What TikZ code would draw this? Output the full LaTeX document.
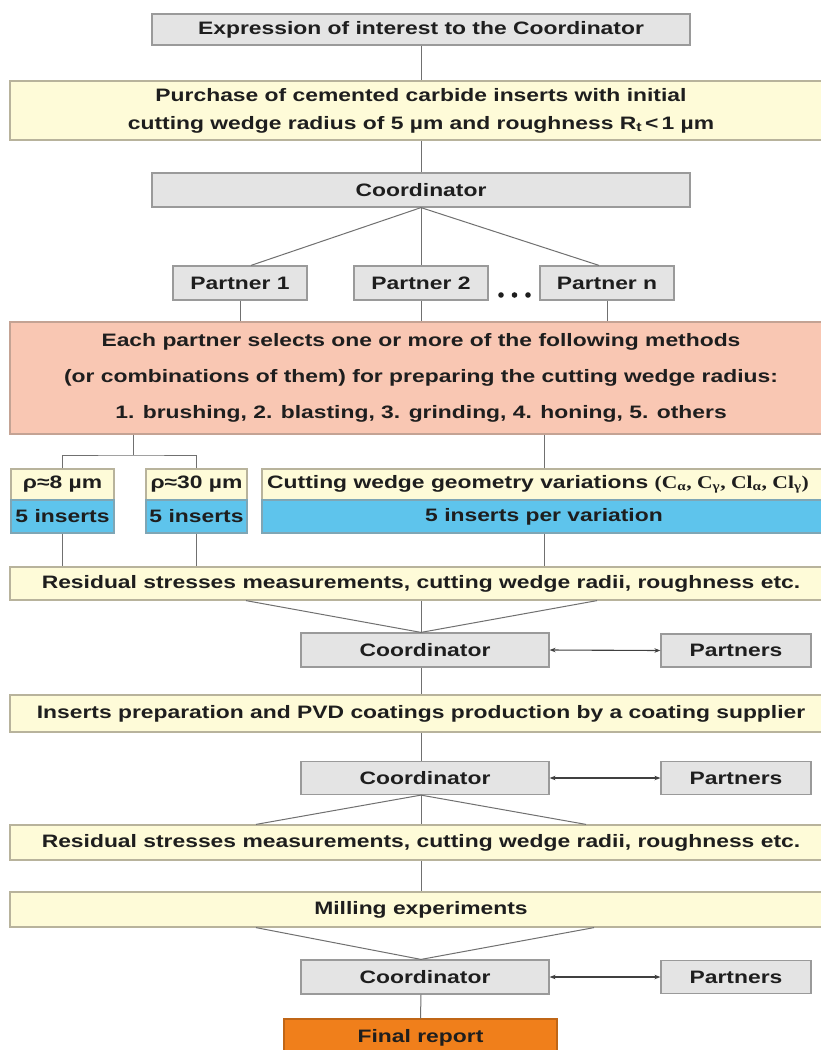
\documentclass[tikz,border=0pt]{standalone}
\usepackage{fontspec}
\newfontfamily\labfont{Liberation Sans}[FakeStretch=1.27]
\newfontfamily\serfont{Liberation Serif}[FakeStretch=1.2]
\usetikzlibrary{arrows.meta}
\definecolor{boxgray}{HTML}{E4E4E4}
\definecolor{bordergray}{HTML}{9A9A9A}
\definecolor{boxyellow}{HTML}{FEFBD8}
\definecolor{borderyellow}{HTML}{B8B39C}
\definecolor{boxpink}{HTML}{F9C7B3}
\definecolor{borderpink}{HTML}{C4A394}
\definecolor{boxblue}{HTML}{5EC4EC}
\definecolor{borderblue}{HTML}{7FA6B5}
\definecolor{boxorange}{HTML}{F07F1B}
\definecolor{linegray}{HTML}{707070}
\definecolor{txt}{HTML}{1E1E1E}
\newcommand{\lab}[1]{\labfont\bfseries\fontsize{18}{#1}\selectfont}
\tikzset{
  every node/.style={font=\lab{21}, text=txt, inner sep=0pt},
  gbox/.style={draw=bordergray, fill=boxgray, line width=1.2pt},
  ybox/.style={draw=borderyellow, fill=boxyellow, line width=1.2pt},
  pbox/.style={draw=borderpink, fill=boxpink, line width=1.2pt},
  bbox/.style={draw=borderblue, fill=boxblue, line width=1.2pt},
  obox/.style={draw=boxorange!80!black, fill=boxorange, line width=1.2pt},
  conn/.style={draw=linegray, line width=1pt},
  dbl/.style={conn, draw=txt!85, line width=1.1pt, {Stealth[length=6pt,width=4.5pt]}-{Stealth[length=6pt,width=4.5pt]}}
}
\begin{document}
\begin{tikzpicture}[x=1pt,y=-1pt]
\useasboundingbox (0,0) rectangle (821,1050);
\clip (0,0) rectangle (821,1050);
\fill[white] (0,0) rectangle (821,1050);

% nodes
\node[gbox, minimum width=538pt, minimum height=31pt] (expr) at (421,29.5) {Expression of interest to the Coordinator};
\node[ybox, minimum width=822pt, minimum height=59pt, align=center, font=\lab{28}] (purch) at (421,110.5)
  {Purchase of cemented carbide inserts with initial\\cutting wedge radius of 5 µm and roughness R\textsubscript{t}\,<\,1 µm};
\node[gbox, minimum width=538pt, minimum height=34pt] (coord1) at (421,190) {Coordinator};
\node[gbox, minimum width=134pt, minimum height=34pt] (p1) at (240,283) {Partner 1};
\node[gbox, minimum width=134pt, minimum height=34pt] (p2) at (421,283) {Partner 2};
\node[gbox, minimum width=134pt, minimum height=34pt] (pn) at (607,283) {Partner n};
\fill[txt] (501,295) circle (2.8pt) (514.5,295) circle (2.8pt) (528,295) circle (2.8pt);

\node[pbox, minimum width=822pt, minimum height=112pt, align=center, font=\lab{36}] (pink) at (421,378)
  {Each partner selects one or more of the following methods\\(or combinations of them) for preparing the cutting wedge radius:\\1. brushing, 2. blasting, 3. grinding, 4. honing, 5. others};

\node[ybox, minimum width=103pt, minimum height=31pt] (r8) at (62.5,484.5) {ρ≈8 µm};
\node[bbox, minimum width=103pt, minimum height=33pt] (r8b) at (62.5,516.5) {5 inserts};
\node[ybox, minimum width=101pt, minimum height=31pt] (r30) at (196.5,484.5) {ρ≈30 µm};
\node[bbox, minimum width=101pt, minimum height=33pt] (r30b) at (196.5,516.5) {5 inserts};
\node[ybox, minimum width=564pt, minimum height=31pt] (cw) at (544,484.5) {};
\node[anchor=west] (cwt) at (267,484.5) {Cutting wedge geometry variations {\serfont\fontsize{18}{21}\selectfont (C\textsubscript{α}, C\textsubscript{γ}, Cl\textsubscript{α}, Cl\textsubscript{γ})}};
\node[bbox, minimum width=564pt, minimum height=33pt] (cwb) at (544,516.5) {5 inserts per variation};

\node[ybox, minimum width=822pt, minimum height=33pt] (res1) at (421,583.5) {Residual stresses measurements, cutting wedge radii, roughness etc.};
\node[gbox, minimum width=248pt, minimum height=34pt] (coord2) at (425,650) {Coordinator};
\node[gbox, minimum width=150pt, minimum height=33pt] (part2) at (736,650.5) {Partners};
\node[ybox, minimum width=822pt, minimum height=37pt] (ins) at (421,713.5) {Inserts preparation and PVD coatings production by a coating supplier};
\node[gbox, minimum width=248pt, minimum height=33pt] (coord3) at (425,778) {Coordinator};
\node[gbox, minimum width=150pt, minimum height=33pt] (part3) at (736,778) {Partners};
\node[ybox, minimum width=822pt, minimum height=35pt] (res2) at (421,842.5) {Residual stresses measurements, cutting wedge radii, roughness etc.};
\node[ybox, minimum width=822pt, minimum height=35pt] (mill) at (421,909.5) {Milling experiments};
\node[gbox, minimum width=248pt, minimum height=34pt] (coord4) at (425,977) {Coordinator};
\node[gbox, minimum width=150pt, minimum height=33pt] (part4) at (736,977) {Partners};
\node[obox, minimum width=273pt, minimum height=38pt] (final) at (420.5,1038) {Final report};

% connectors
\draw[conn] (expr.south) -- (purch.north);
\draw[conn] (purch.south) -- (coord1.north);
\draw[conn] (coord1.south) -- ([xshift=11pt]p1.north);
\draw[conn] (coord1.south) -- (p2.north);
\draw[conn] (coord1.south) -- ([xshift=-8pt]pn.north);
\draw[conn] (p1.south) -- (p1.south |- pink.north);
\draw[conn] (p2.south) -- (p2.south |- pink.north);
\draw[conn] (pn.south) -- (pn.south |- pink.north);
\coordinate (brk) at (133,455);
\draw[conn] (brk |- pink.south) -- (brk);
\draw[conn] (r8.north) |- (brk) -| (r30.north);
\draw[conn] (cw.north) -- (cw.north |- pink.south);
\draw[conn] (r8b.south) -- (r8b.south |- res1.north);
\draw[conn] (r30b.south) -- (r30b.south |- res1.north);
\draw[conn] (cwb.south) -- (cwb.south |- res1.north);
\coordinate (c2top) at ([xshift=-4pt]coord2.north);
\draw[conn] ([xshift=-175pt]res1.south) -- (c2top);
\draw[conn] (res1.south) -- (c2top);
\draw[conn] ([xshift=176pt]res1.south) -- (c2top);
\draw[dbl] (coord2.east) -- (part2.west);
\draw[conn] ([xshift=-4pt]coord2.south) -- (ins.north);
\draw[conn] (ins.south) -- ([xshift=-4pt]coord3.north);
\draw[dbl] (coord3.east) -- (part3.west);
\coordinate (c3bot) at ([xshift=-4pt]coord3.south);
\draw[conn] (c3bot) -- ([xshift=-165pt]res2.north);
\draw[conn] (c3bot) -- (res2.north);
\draw[conn] (c3bot) -- ([xshift=165pt]res2.north);
\draw[conn] (res2.south) -- (mill.north);
\coordinate (c4top) at ([xshift=-4pt]coord4.north);
\draw[conn] ([xshift=-165pt]mill.south) -- (c4top);
\draw[conn] ([xshift=173pt]mill.south) -- (c4top);
\draw[dbl] (coord4.east) -- (part4.west);
\draw[conn] ([xshift=-4pt]coord4.south) -- (final.north);
\end{tikzpicture}
\end{document}
